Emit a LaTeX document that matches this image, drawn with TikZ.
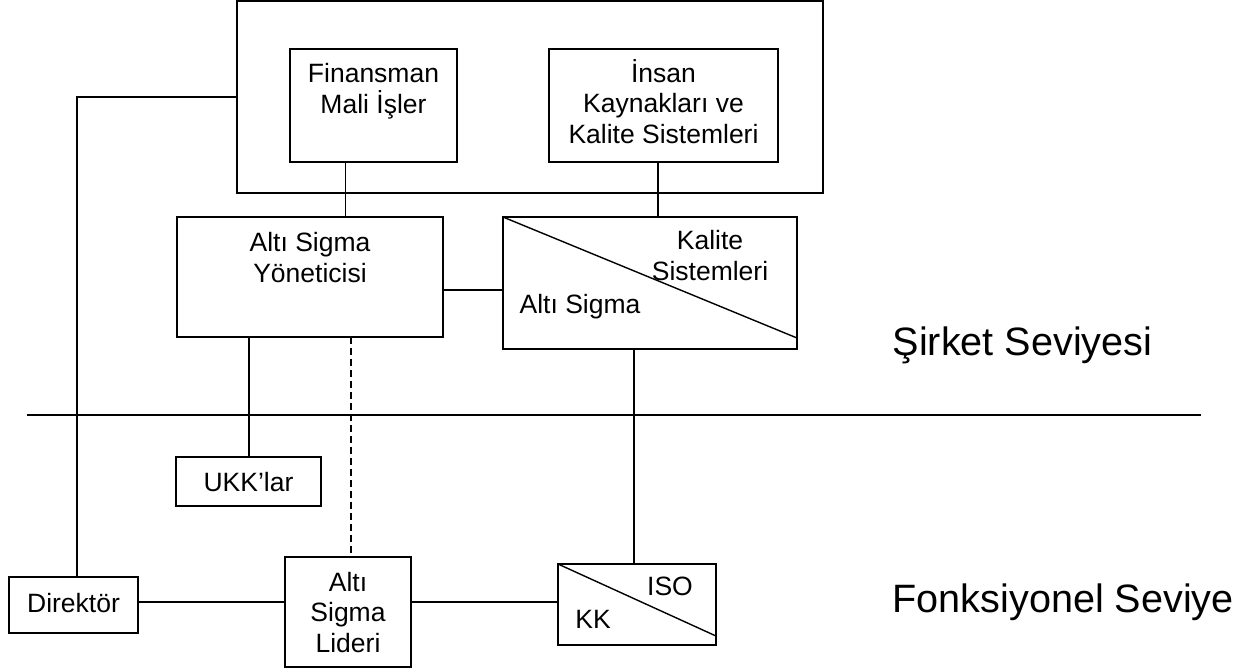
\documentclass[tikz,border=0pt]{standalone}
\usepackage{fontspec}
\setmainfont{Liberation Sans}
\usetikzlibrary{calc}
\begin{document}
\begin{tikzpicture}[x=1pt,y=-1pt,line width=1.4pt,
  box/.style={draw,rectangle,inner sep=0pt,outer sep=0pt},
  lbl/.style={font=\fontsize{26.5}{30.5}\selectfont,align=center,anchor=base,inner sep=0pt},
  level/.style={font=\fontsize{39.6}{44}\selectfont,anchor=base west,inner sep=0pt},
  wire/.style={line width=1.4pt},
  dashwire/.style={line width=1.4pt,dash pattern=on 7pt off 4pt}]
\useasboundingbox (0,0) rectangle (1257,669);

% boxes
\node[box,minimum width=586pt,minimum height=192pt] (grp) at (530,97) {};
\node[box,minimum width=167pt,minimum height=113pt] (fin) at (373.5,105.5) {};
\node[box,minimum width=229pt,minimum height=113pt] (ik) at (663.5,105.5) {};
\node[box,minimum width=266pt,minimum height=120pt] (asy) at (310,277) {};
\node[box,minimum width=294pt,minimum height=132pt] (kal) at (650,283) {};
\node[box,minimum width=145pt,minimum height=49pt] (ukk) at (248.5,481.5) {};
\node[box,minimum width=129pt,minimum height=56pt] (dir) at (73.5,605) {};
\node[box,minimum width=126pt,minimum height=110pt] (lid) at (348,612) {};
\node[box,minimum width=158pt,minimum height=81pt] (iso) at (637,604.5) {};

% split boxes
\draw[wire] (kal.north west) -- ($(kal.south east)+(0,-11)$);
\draw[wire] (iso.north west) -- ($(iso.south east)+(0,-9)$);

% texts (anchored at the baseline of the last line)
\node[lbl] (tfin) at (373.5,113) {Finansman\\Mali İşler};
\node[lbl] (tik) at (663.5,143) {İnsan\\Kaynakları ve\\Kalite Sistemleri};
\node[lbl] (tasy) at (310,282) {Altı Sigma\\Yöneticisi};
\node[lbl] (tkal) at (710,280) {Kalite\\Sistemleri};
\node[lbl] (tkas) at (580,313) {Altı Sigma};
\node[lbl] (tukk) at (248.5,491) {UKK’lar};
\node[lbl] (tdir) at (73.5,612) {Direktör};
\node[lbl] (tlid) at (348,652) {Altı\\Sigma\\Lideri};
\node[lbl] (tiso) at (670,595) {ISO};
\node[lbl] (tkk) at (593,628) {KK};
\node[level] (sirket) at (892,355) {Şirket Seviyesi};
\node[level] (fonk) at (892,612) {Fonksiyonel Seviye};

% helper coordinates for connector routes
\coordinate (xfin) at (345.5,0);
\coordinate (xik) at (658,0);
\coordinate (yak) at (0,290);
\coordinate (ygrp) at (0,97);
\coordinate (xdir) at (77,0);
\coordinate (xukk) at (249,0);
\coordinate (xdash) at (351,0);
\coordinate (ylow) at (0,602);
\coordinate (xiso) at (634,0);
\coordinate (sepL) at (27,415);
\coordinate (sepR) at (1201,415);

% connectors
\draw[wire] (xfin |- fin.south) -- (xfin |- asy.north);
\draw[wire] (xik |- ik.south) -- (xik |- kal.north);
\draw[wire] (asy.east |- yak) -- (kal.west |- yak);
\draw[wire] (grp.west |- ygrp) -| (xdir |- dir.north);
\draw[wire] (xukk |- asy.south) -- (xukk |- ukk.north);
\draw[dashwire] (xdash |- asy.south) -- (xdash |- lid.north);
\draw[wire] (dir.east |- ylow) -- (lid.west |- ylow);
\draw[wire] (lid.east |- ylow) -- (iso.west |- ylow);
\draw[wire] (xiso |- kal.south) -- (xiso |- iso.north);
\draw[wire] (sepL) -- (sepR);
\end{tikzpicture}
\end{document}
